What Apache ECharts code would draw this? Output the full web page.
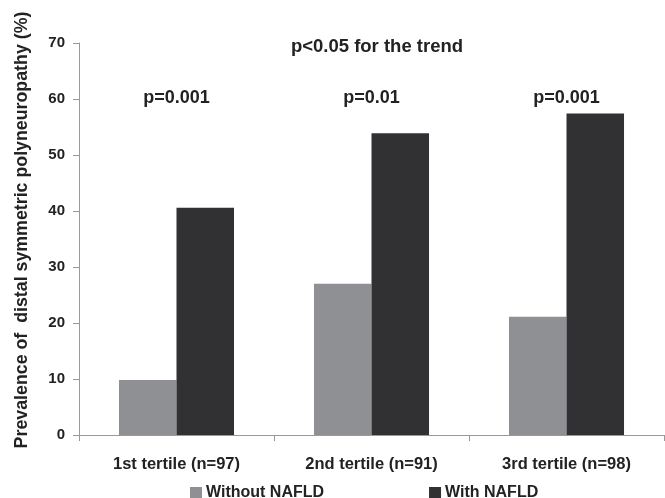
<!DOCTYPE html>
<html><head><meta charset="utf-8">
<script src="https://cdn.jsdelivr.net/npm/echarts@6/dist/echarts.min.js"></script>
<style>html,body{margin:0;padding:0;background:#fff}#c{width:665px;height:498px}</style>
</head><body><div id="c"></div>
<script>
const categories = ['1st tertile (n=97)', '2nd tertile (n=91)', '3rd tertile (n=98)'];
const withoutNAFLD = [9.8, 27.0, 21.1];
const withNAFLD = [40.6, 53.9, 57.4];
const pValues = ['p=0.001', 'p=0.01', 'p=0.001'];
const yTicks = [0, 10, 20, 30, 40, 50, 60, 70];
const trendText = 'p<0.05 for the trend';

const font = 'Liberation Sans, Arial, sans-serif';
const chart = echarts.init(document.getElementById('c'), null, {renderer: 'canvas'});
const option = {
  animation: false,
  backgroundColor: '#fff',
  grid: {left: 79, right: 1, top: 43, bottom: 63, containLabel: false, outerBoundsMode: 'none'},
  legend: {
    data: ['Without NAFLD', 'With NAFLD'],
    top: 480, left: 185, itemGap: 105, itemWidth: 12, itemHeight: 12,
    icon: 'rect',
    textStyle: {fontFamily: font, fontWeight: 'bold', fontSize: 16, color: '#222', padding: [0,0,0,-1]}
  },
  xAxis: {
    type: 'category', data: categories,
    axisLine: {lineStyle: {color: '#999'}},
    axisTick: {show: true, length: 6, lineStyle: {color: '#999'}},
    axisLabel: {fontFamily: font, fontWeight: 'bold', fontSize: 16.5, color: '#222', margin: 21}
  },
  yAxis: {
    type: 'value', min: 0, max: 70, interval: 10,
    name: 'Prevalence of  distal symmetric polyneuropathy (%)',
    nameLocation: 'middle', nameGap: 48, nameRotate: 90,
    nameTextStyle: {fontFamily: font, fontWeight: 'bold', fontSize: 17.8, color: '#222', padding: [0,0,0,18]},
    axisLine: {show: true, lineStyle: {color: '#999'}},
    axisTick: {show: true, length: 6, lineStyle: {color: '#999'}},
    splitLine: {show: false},
    axisLabel: {fontFamily: font, fontWeight: 'bold', fontSize: 15, color: '#222', margin: 14,
      formatter: v => yTicks.includes(v) ? String(v) : ''}
  },
  series: [
    {name: 'Without NAFLD', type: 'bar', data: withoutNAFLD, barGap: '0%', barCategoryGap: '41%',
     itemStyle: {color: '#8f9094'}},
    {name: 'With NAFLD', type: 'bar', data: withNAFLD, itemStyle: {color: '#313033'}}
  ]
};
chart.setOption(option);
const gr = [];
const top0 = chart.convertToPixel({yAxisIndex: 0}, 70);
gr.push({type: 'text', x: 377, y: top0 + 4, style: {text: trendText, font: 'bold 18.5px ' + font, fill: '#222', textAlign: 'center', textVerticalAlign: 'middle'}});
pValues.forEach((p, i) => {
  const x = chart.convertToPixel({xAxisIndex: 0}, i);
  gr.push({type: 'text', x: x, y: chart.convertToPixel({yAxisIndex: 0}, 60.2), style: {text: p, font: 'bold 18px ' + font, fill: '#222', textAlign: 'center', textVerticalAlign: 'middle'}});
});
chart.setOption({graphic: gr});
</script></body></html>
